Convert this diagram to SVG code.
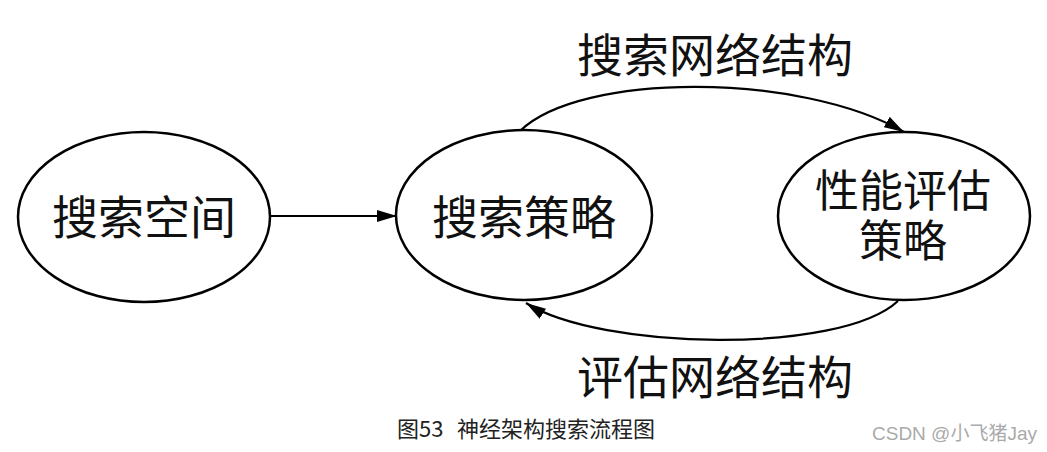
<svg xmlns="http://www.w3.org/2000/svg" width="1047" height="452" viewBox="0 0 1047 452">
<style>
.node ellipse{fill:#fff;stroke:#000;stroke-width:2.5}
.lbl{font-family:"Noto Sans CJK SC","Liberation Sans",sans-serif;font-size:46px;fill:#111;text-anchor:middle}
.lbl2{font-size:44px}
.edge{fill:none;stroke:#000;stroke-width:2.2}
.cap{font-family:"Noto Sans CJK SC","Liberation Sans",sans-serif;font-size:22px;fill:#222}
.wm{font-family:"Liberation Sans","Noto Sans CJK SC",sans-serif;font-size:19px;fill:#aaa}
</style>
<defs>
<marker id="arr" markerUnits="userSpaceOnUse" markerWidth="22" markerHeight="12" refX="20" refY="6" orient="auto">
<path d="M0,0 L20,6 L0,12 z" fill="#000"/>
</marker>
</defs>
<rect width="1047" height="452" fill="#fff"/>
<g id="connectors">
<line class="edge" x1="270" y1="216" x2="397" y2="216" marker-end="url(#arr)"/>
<path class="edge" d="M520,131 C580,72 800,72 904,132" marker-end="url(#arr)"/>
<path class="edge" d="M898,301 C840,355 600,350 526,303" marker-end="url(#arr)"/>
</g>
<g id="node-space" class="node">
<ellipse cx="144" cy="217" rx="126" ry="85"/>
<text class="lbl" x="144" y="234">搜索空间</text>
</g>
<g id="node-strategy" class="node">
<ellipse cx="524" cy="215" rx="128" ry="85"/>
<text class="lbl" x="524" y="234">搜索策略</text>
</g>
<g id="node-eval" class="node">
<ellipse cx="904" cy="216" rx="126" ry="84"/>
<text class="lbl lbl2" x="903" y="207">性能评估</text>
<text class="lbl lbl2" x="903" y="257">策略</text>
</g>
<text class="lbl" x="715" y="72">搜索网络结构</text>
<text class="lbl" x="715" y="394">评估网络结构</text>
<text class="cap" y="437"><tspan x="397">图53</tspan><tspan x="457">神经架构搜索流程图</tspan></text>
<text class="wm" x="872" y="440">CSDN @小飞猪Jay</text>
</svg>
